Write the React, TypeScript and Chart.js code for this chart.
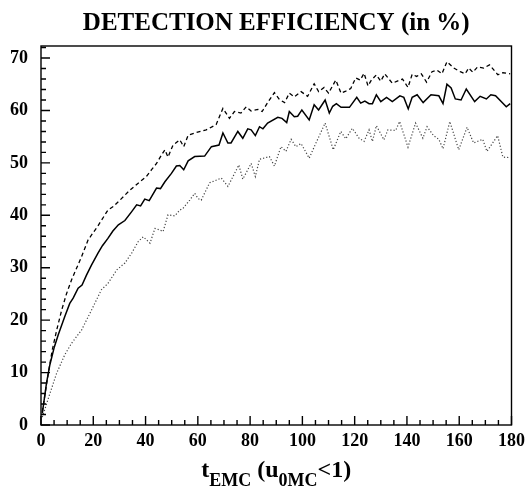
import React, { useEffect, useRef } from "react";
import { Chart, registerables } from "chart.js";

Chart.register(...registerables);

const TITLE = "DETECTION EFFICIENCY (in %)";
const X_TICKS = [0, 20, 40, 60, 80, 100, 120, 140, 160, 180];
const Y_TICKS = [0, 10, 20, 30, 40, 50, 60, 70];

// solid curve (vertices)
const SOLID_X = [0.5, 2.1, 3.4, 5.1, 6.6, 9.1, 11, 12.3, 14.2, 15.7, 17.4, 19.3, 21.8, 23.5, 25.6, 27.5, 29.6, 32.1, 34.7, 36.6, 38.1, 39.7, 41.4, 44.2, 45.7, 47.4, 49.9, 51.8, 53.1, 54.6, 56.3, 58.8, 62.6, 65.2, 68.1, 69.6, 71.5, 72.7, 75.3, 77.2, 79.1, 80.4, 82, 83.6, 84.9, 86.7, 90.6, 92.2, 94, 95, 96.9, 98.2, 99.8, 102.6, 104.5, 106.2, 108.7, 110.3, 111.6, 113, 114.8, 116.6, 118, 120.8, 122.3, 123.9, 125.5, 126.8, 128.3, 130, 132.2, 134.4, 137.3, 138.8, 140.5, 142, 143.9, 146.2, 149.2, 152.2, 153.8, 155.3, 156.9, 158.5, 160.7, 162.7, 165.9, 168, 170.4, 172.1, 173.9, 178, 179.5];
const SOLID_Y = [2.2, 8, 11.5, 14.9, 17.2, 20.7, 23.2, 24.2, 26.1, 26.7, 28.6, 30.5, 32.8, 34.2, 35.6, 37, 38.2, 39, 40.7, 42, 41.8, 43.1, 42.8, 45.2, 45.1, 46.4, 48, 49.4, 49.5, 48.7, 50.4, 51.2, 51.3, 53.1, 53.4, 55.7, 53.8, 53.8, 56, 54.7, 56.5, 56.3, 55.2, 56.9, 56.5, 57.6, 58.7, 58.5, 57.7, 59.8, 58.8, 58.9, 60.1, 58.2, 61.1, 60.1, 62, 59.5, 60.8, 61.3, 60.6, 60.6, 60.6, 62.5, 61.4, 61.8, 61.3, 61.3, 63, 61.7, 62.5, 61.7, 62.8, 62.5, 60.3, 62.5, 63, 61.5, 63, 62.8, 61.3, 65, 64.3, 62.2, 62, 64.1, 61.7, 62.7, 62.2, 63, 62.8, 60.7, 61.3];

// dashed curve
const DASHED_X = [0.5, 2.8, 4.3, 6, 7.9, 9.8, 11.7, 13.6, 15.5, 18, 21.8, 25.6, 27.7, 30.2, 34, 37.8, 40.3, 42.3, 44.2, 46.1, 47.4, 48.6, 50.5, 53.1, 54.6, 56.3, 59.5, 63.2, 67, 69.6, 72.1, 74, 76.5, 78.5, 80.4, 83, 84.6, 86.7, 89.3, 91.2, 93.2, 95, 96.9, 99.5, 102, 104.5, 106.2, 108.3, 110, 112.8, 114.8, 116.6, 118.5, 120.4, 122.1, 123.6, 125.1, 126.4, 128.3, 130, 131.5, 134.4, 136.3, 138.3, 140.4, 142, 143.7, 145.5, 147.5, 149.6, 151.5, 153.4, 155.3, 157.9, 160.4, 162.3, 163.6, 165.2, 167, 169.4, 171.6, 174.8, 176.7, 179.5];
const DASHED_Y = [2.5, 9.9, 14.3, 18.1, 21.9, 25.1, 27.7, 29.9, 32.1, 35.3, 38, 41, 41.7, 42.9, 44.8, 46.4, 47.4, 48.7, 49.9, 51.5, 52.5, 51.1, 53.4, 54.4, 53.1, 55.3, 55.8, 56.3, 57.3, 60.4, 58.5, 59.8, 59.5, 60.7, 59.9, 60.2, 59.8, 61.5, 63.4, 62.1, 61.5, 63.3, 62.6, 63.6, 62.7, 65.1, 63.6, 64.4, 63.3, 65.8, 63.3, 63.7, 64.2, 66.2, 65.8, 67.1, 64.7, 65.8, 66.8, 65.6, 67, 65.2, 65.6, 66, 64.4, 66.9, 66.5, 67, 65.4, 67.4, 67.7, 67, 69.3, 68.1, 67.4, 67, 68.1, 67.3, 68.3, 68.1, 68.7, 66.8, 67.2, 67];

// dotted curve
const DOTTED_X = [0.5, 3.4, 6, 9.1, 11.7, 15.5, 19.3, 23.1, 25.6, 29, 32.1, 34.7, 37.2, 39.1, 40.4, 41.7, 43.6, 45.5, 46.7, 48.6, 51.2, 53.1, 54.3, 56.9, 58.8, 60.1, 61.3, 64.5, 69, 71.5, 75.7, 77.2, 80.4, 82, 83.6, 87.4, 89.3, 91.8, 93.7, 95.7, 97.5, 99.5, 102.6, 105.1, 108.7, 111.8, 114.7, 116.6, 119.1, 121.7, 123.6, 125.5, 126.8, 128.3, 131.2, 132.7, 135.7, 137.2, 140.4, 143.3, 146.1, 147.7, 150.2, 152.2, 153.8, 156.4, 159.8, 163, 165.5, 169, 170.6, 174.7, 176.7, 179.5];
const DOTTED_Y = [1.5, 6, 9.9, 13.4, 15.6, 18.1, 21.9, 25.8, 27, 29.6, 30.9, 32.8, 35, 35.9, 35.3, 34.7, 37.5, 37.2, 36.9, 40.1, 39.9, 41, 41.3, 42.9, 44.2, 43.2, 42.9, 46.2, 47.1, 45.5, 49.6, 46.9, 49.9, 47.4, 50.7, 51.2, 49.4, 53.1, 52.2, 54.5, 53.1, 53.7, 50.9, 53.7, 57.6, 52.5, 56, 54.6, 56.6, 54.7, 54.1, 56.3, 54.1, 57.1, 54.4, 56.3, 56.2, 57.9, 53, 57.6, 54.7, 56.9, 55.2, 54.5, 52.7, 57.9, 52.5, 56.8, 53.8, 54.5, 52.2, 55.2, 51.1, 51];

const toPoints = (xs: number[], ys: number[]) => xs.map((x, i) => ({ x, y: ys[i] }));

const SERIF = "'Liberation Serif', 'DejaVu Serif', serif";

const framePlugin = {
  id: "frame",
  afterDraw(chart: any) {
    const ctx: CanvasRenderingContext2D = chart.ctx;
    const area = chart.chartArea;
    const xs = chart.scales.x;
    const ys = chart.scales.y;
    const left = area.left;
    const right = area.right;
    const top = area.top;
    const bottom = area.bottom;
    ctx.save();
    ctx.setLineDash([]);
    ctx.strokeStyle = "#000";
    ctx.lineWidth = 1.4;
    ctx.strokeRect(left, top, right - left, bottom - top);
    // inside tick marks
    ctx.lineWidth = 1.4;
    ctx.beginPath();
    for (let v = 0; v <= 180; v += 5) {
      const px = xs.getPixelForValue(v);
      const len = v % 20 === 0 ? 9 : 5;
      ctx.moveTo(px, bottom);
      ctx.lineTo(px, bottom - len);
    }
    for (let v = 0; v <= 72; v += 2) {
      const py = ys.getPixelForValue(v);
      const len = v % 10 === 0 ? 9 : 5;
      ctx.moveTo(left, py);
      ctx.lineTo(left + len, py);
    }
    ctx.stroke();
    // title
    const cx = (left + right) / 2;
    ctx.fillStyle = "#000";
    ctx.textAlign = "center";
    ctx.textBaseline = "alphabetic";
    ctx.font = `bold 25px ${SERIF}`;
    ctx.fillText(TITLE, cx, 30);
    // x axis title with subscripts
    const parts: [string, boolean][] = [
      ["t", false],
      ["EMC", true],
      [" (u", false],
      ["0MC", true],
      ["<1)", false],
    ];
    const mainFont = `bold 24px ${SERIF}`;
    const subFont = `bold 18px ${SERIF}`;
    let total = 0;
    const widths = parts.map(([s, sub]) => {
      ctx.font = sub ? subFont : mainFont;
      const w = ctx.measureText(s).width;
      total += w;
      return w;
    });
    let x = cx - total / 2;
    ctx.textAlign = "left";
    parts.forEach(([s, sub], i) => {
      ctx.font = sub ? subFont : mainFont;
      ctx.fillText(s, x, sub ? 486 : 477);
      x += widths[i];
    });
    ctx.restore();
  },
};

export default function App() {
  const ref = useRef<HTMLCanvasElement | null>(null);
  useEffect(() => {
    if (!ref.current) return;
    const chart = new Chart(ref.current, {
      type: "line",
      data: {
        datasets: [
          {
            label: "solid",
            data: toPoints(SOLID_X, SOLID_Y),
            borderColor: "#000",
            borderWidth: 1.5,
            pointRadius: 0,
            tension: 0,
          },
          {
            label: "dashed",
            data: toPoints(DASHED_X, DASHED_Y),
            borderColor: "#000",
            borderWidth: 1.3,
            borderDash: [4, 3],
            pointRadius: 0,
            tension: 0,
          },
          {
            label: "dotted",
            data: toPoints(DOTTED_X, DOTTED_Y),
            borderColor: "#444",
            borderWidth: 1.2,
            borderDash: [1.2, 2],
            pointRadius: 0,
            tension: 0,
          },
        ],
      },
      options: {
        animation: false,
        responsive: false,
        layout: { padding: { top: 46, right: 18, bottom: 0, left: 0 } },
        plugins: { legend: { display: false }, tooltip: { enabled: false }, title: { display: false } },
        scales: {
          x: {
            type: "linear",
            min: 0,
            max: 180,
            afterFit: (s: any) => {
              s.height = 63;
            },
            afterBuildTicks: (s: any) => {
              s.ticks = X_TICKS.map((v) => ({ value: v }));
            },
            grid: { display: false, drawTicks: false },
            border: { display: false },
            ticks: {
              color: "#000",
              padding: 6,
              maxRotation: 0,
              autoSkip: false,
              font: { family: SERIF, size: 18, weight: "bold" },
            },
          },
          y: {
            type: "linear",
            min: 0,
            max: 72.3,
            afterFit: (s: any) => {
              s.width = 41;
            },
            afterBuildTicks: (s: any) => {
              s.ticks = Y_TICKS.map((v) => ({ value: v }));
            },
            grid: { display: false, drawTicks: false },
            border: { display: false },
            ticks: {
              color: "#000",
              padding: 13,
              font: { family: SERIF, size: 18, weight: "bold" },
            },
          },
        },
      },
      plugins: [framePlugin],
    });
    return () => chart.destroy();
  }, []);
  return (
    <div style={{ position: "fixed", left: 0, top: 0, width: 531, height: 488, background: "#fff" }}>
      <canvas ref={ref} width={531} height={488} style={{ display: "block" }} />
    </div>
  );
}
